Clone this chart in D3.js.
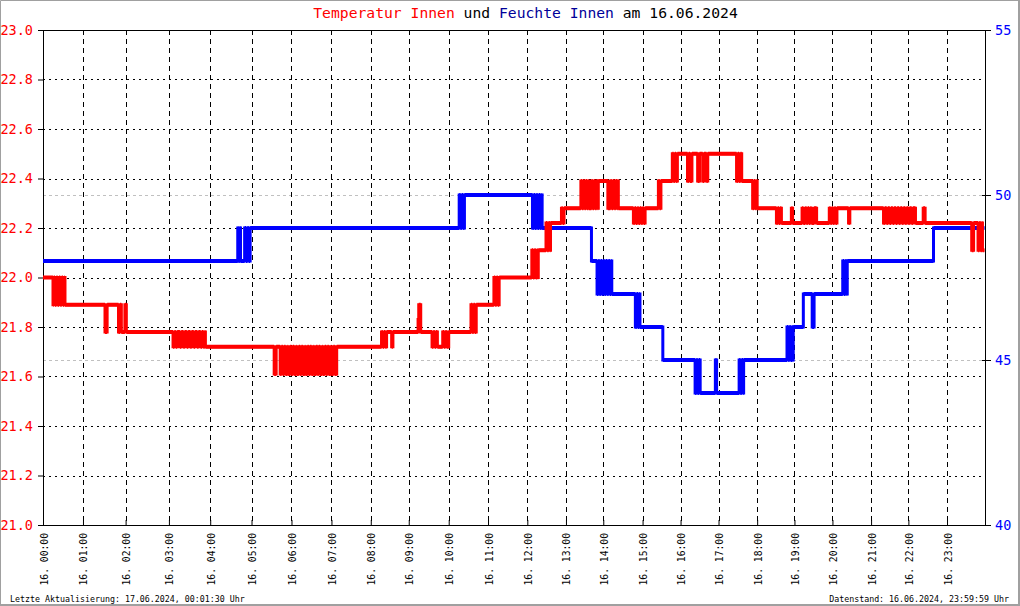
<!DOCTYPE html>
<html><head><meta charset="utf-8">
<script src="https://cdn.jsdelivr.net/npm/d3@7"></script>
<style>
body{margin:0;background:#fff}
svg{display:block}
text{font-family:"DejaVu Sans Mono",monospace}
</style>
</head><body><svg id="c" width="1020" height="606"></svg>
<script>
// ---- data ----
const samplesPerHour = [60,64,65,62,62,60,60,59,57,60,59,59,58,56,59,57,57,58,56,57,58,56,58,57];
const tempTicks = [21.0,21.2,21.4,21.6,21.8,22.0,22.2,22.4,22.6,22.8,23.0];
const humTicks = [40,45,50,55];
const hourTicks = [0,1,2,3,4,5,6,7,8,9,10,11,12,13,14,15,16,17,18,19,20,21,22,23];
const hourLabels = ["16. 00:00","16. 01:00","16. 02:00","16. 03:00","16. 04:00","16. 05:00","16. 06:00","16. 07:00","16. 08:00","16. 09:00","16. 10:00","16. 11:00","16. 12:00","16. 13:00","16. 14:00","16. 15:00","16. 16:00","16. 17:00","16. 18:00","16. 19:00","16. 20:00","16. 21:00","16. 22:00","16. 23:00"];
const titleParts = [["Temperatur Innen","#ff0000"],[" und ","#000000"],["Feuchte Innen","#000099"],[" am 16.06.2024","#000000"]];
const footerLeft = "Letzte Aktualisierung: 17.06.2024, 00:01:30 Uhr";
const footerRight = "Datenstand: 16.06.2024, 23:59:59 Uhr";

const tempSeries = [
["00:00",22.0],
["00:15",21.89],["00:16",22.0],["00:18",21.89],["00:20",22.0],["00:22",21.89],["00:24",22.0],["00:26",21.89],["00:28",22.0],["00:30",21.89],["00:32",22.0],["00:33",21.89],
["01:31",21.78],["01:34",21.89],
["01:50",21.78],["01:52",21.89],["01:54",21.78],["01:59",21.89],["02:01",21.78],
["03:06",21.72],["03:08",21.78],["03:10",21.72],["03:12",21.78],["03:16",21.72],["03:18",21.78],["03:21",21.72],["03:23",21.78],["03:26",21.72],["03:28",21.78],["03:31",21.72],["03:33",21.78],["03:36",21.72],["03:38",21.78],["03:41",21.72],["03:43",21.78],["03:46",21.72],["03:48",21.78],["03:50",21.72],["03:52",21.78],["03:53",21.72],
["05:34",21.61],["05:37",21.72],
["05:43",21.61],["05:45",21.72],["05:47",21.61],["05:49",21.72],["05:51",21.61],["05:54",21.72],["05:55",21.61],["05:58",21.72],["06:00",21.61],["06:02",21.72],["06:04",21.61],["06:07",21.72],["06:08",21.61],["06:11",21.72],["06:13",21.61],["06:15",21.72],["06:17",21.61],["06:20",21.72],["06:21",21.61],["06:24",21.72],["06:26",21.61],["06:28",21.72],["06:30",21.61],["06:33",21.72],["06:34",21.61],["06:37",21.72],["06:39",21.61],["06:41",21.72],["06:43",21.61],["06:46",21.72],["06:47",21.61],["06:50",21.72],["06:52",21.61],["06:54",21.72],["06:56",21.61],["06:59",21.72],["07:00",21.61],["07:03",21.72],["07:05",21.61],["07:08",21.72],
["08:17",21.78],["08:19",21.72],["08:21",21.78],["08:23",21.72],["08:25",21.78],
["08:33",21.72],["08:35",21.78],
["09:14",21.83],["09:15",21.89],["09:18",21.78],
["09:35",21.72],["09:37",21.78],["09:39",21.72],["09:41",21.78],["09:43",21.72],
["09:51",21.78],["09:53",21.72],["09:55",21.78],["09:57",21.72],["10:00",21.78],
["10:34",21.89],["10:36",21.78],["10:38",21.89],["10:40",21.78],["10:42",21.89],
["11:09",22.0],["11:11",21.89],["11:13",22.0],["11:15",21.89],["11:17",22.0],
["12:07",22.11],["12:09",22.0],["12:11",22.11],["12:13",22.0],["12:15",22.11],["12:16",22.0],["12:17",22.11],
["12:29",22.22],["12:31",22.11],["12:33",22.22],["12:35",22.11],["12:36",22.22],
["12:53",22.28],["12:55",22.22],["12:57",22.28],
["13:24",22.39],["13:26",22.28],["13:28",22.39],["13:30",22.28],["13:32",22.39],["13:34",22.28],["13:36",22.39],["13:37",22.28],
["13:41",22.39],["13:43",22.28],["13:45",22.39],["13:47",22.28],["13:49",22.39],["13:51",22.28],["13:52",22.39],
["14:07",22.28],["14:11",22.39],
["14:13",22.28],["14:15",22.39],["14:17",22.28],["14:19",22.39],["14:21",22.28],["14:22",22.39],["14:23",22.28],
["14:46",22.22],["14:48",22.28],["14:50",22.22],["14:52",22.28],["14:54",22.22],["14:56",22.28],["14:58",22.22],["15:00",22.28],["15:02",22.22],["15:04",22.28],
["15:25",22.39],["15:27",22.28],["15:29",22.39],
["15:47",22.5],["15:49",22.39],["15:51",22.5],["15:53",22.39],["15:55",22.5],
["16:11",22.39],["16:13",22.5],["16:15",22.39],["16:18",22.5],
["16:27",22.39],["16:30",22.5],["16:35",22.39],["16:37",22.5],["16:41",22.39],["16:43",22.5],
["17:28",22.39],["17:30",22.5],["17:32",22.39],["17:34",22.5],["17:36",22.39],
["17:53",22.28],["17:55",22.39],["17:57",22.28],["17:59",22.39],["18:00",22.28],
["18:31",22.22],["18:33",22.28],["18:35",22.22],["18:37",22.28],["18:39",22.22],
["18:55",22.28],["18:57",22.22],
["19:12",22.28],["19:14",22.22],["19:17",22.28],["19:19",22.22],["19:21",22.28],["19:23",22.22],["19:25",22.28],["19:27",22.22],
["19:31",22.28],["19:35",22.22],
["19:55",22.28],["19:57",22.22],["19:59",22.28],["20:01",22.22],["20:03",22.28],["20:05",22.22],["20:07",22.28],
["20:25",22.22],["20:27",22.28],
["21:20",22.22],["21:22",22.28],["21:25",22.22],["21:27",22.28],["21:30",22.22],["21:32",22.28],["21:35",22.22],["21:37",22.28],["21:40",22.22],["21:42",22.28],["21:45",22.22],["21:47",22.28],["21:50",22.22],["21:52",22.28],["21:55",22.22],["21:57",22.28],["22:00",22.22],["22:02",22.28],["22:05",22.22],["22:07",22.28],["22:11",22.22],
["22:23",22.28],["22:26",22.22],
["23:39",22.11],["23:42",22.22],
["23:49",22.11],["23:51",22.22],["23:53",22.11],["23:55",22.22],["23:56",22.11],["23:59",22.11]
];

const humSeries = [
["00:00",48],
["04:40",49],["04:41",48],["04:43",49],["04:44",48],["04:50",49],["04:52",48],["04:54",49],["04:56",48],["04:58",49],
["10:16",50],["10:18",49],["10:20",50],["10:22",49],["10:24",50],
["12:08",49],["12:10",50],["12:12",49],["12:14",50],["12:16",49],["12:18",50],["12:20",49],["12:22",50],["12:23",49],
["13:41",48],
["13:50",47],["13:52",48],["13:54",47],["13:56",48],["13:58",47],["14:00",48],["14:02",47],["14:04",48],["14:06",47],["14:08",48],["14:10",47],["14:12",48],["14:13",47],
["14:49",46],["14:51",47],["14:53",46],["14:55",47],["14:56",46],
["15:32",45],
["16:23",44],["16:25",45],["16:27",44],["16:29",45],["16:31",44],
["16:55",45],["16:57",44],
["17:32",45],["17:34",44],["17:36",45],["17:38",44],["17:39",45],
["18:48",46],["18:50",45],["18:52",46],["18:54",45],["18:56",46],["18:57",45],["18:58",46],
["19:14",47],
["19:28",46],["19:31",47],
["20:16",48],["20:18",47],["20:20",48],["20:22",47],["20:23",48],
["22:39",49],
["23:59",49]
];

// ---- layout ----
const W = 1020, H = 606;
const L = 43, R = 985, T = 30, B = 525;
const svg = d3.select("#c");

const cum = [0];
samplesPerHour.forEach((s, i) => cum.push(cum[i] + s));
function toIndex(t) {
  const [h, mm] = t.split(":").map(Number);
  return cum[h] + mm / 60 * samplesPerHour[h];
}
const x = d3.scaleLinear().domain([0, cum[24]]).range([L, R]);
const yT = d3.scaleLinear().domain([21, 23]).range([B, T]);
const yH = d3.scaleLinear().domain([40, 55]).range([B, T]);
const px = v => Math.round(v) + 0.5;

// outer border
svg.append("rect").attr("x", 0).attr("y", 0).attr("width", W).attr("height", H).attr("fill", "#fff");
svg.append("path").attr("d", `M0.5,${H}V0.5H${W}`).attr("stroke", "#a0a0a0").attr("fill", "none");
svg.append("path").attr("d", `M${W-1},0V${H-1}H0`).attr("stroke", "#a0a0a0").attr("stroke-width", 2).attr("fill", "none");

// gray dashed lines at humidity ticks
svg.append("g").selectAll("line").data(humTicks.filter(d => d > 40 && d < 55)).join("line")
  .attr("x1", L).attr("x2", R).attr("y1", d => px(yH(d))).attr("y2", d => px(yH(d)))
  .attr("stroke", "#c0c0c0").attr("stroke-dasharray", "3,3");

// horizontal dotted grid
svg.append("g").selectAll("line").data(tempTicks.filter(d => d > 21 && d < 23)).join("line")
  .attr("x1", L).attr("x2", R).attr("y1", d => px(yT(d))).attr("y2", d => px(yT(d)))
  .attr("stroke", "#000").attr("stroke-dasharray", "2,4");

// vertical dashed grid
svg.append("g").selectAll("line").data(hourTicks.filter(h => h > 0)).join("line")
  .attr("x1", h => px(x(cum[h]))).attr("x2", h => px(x(cum[h])))
  .attr("y1", T).attr("y2", B)
  .attr("stroke", "#000").attr("stroke-dasharray", "5,4");

// frame
svg.append("rect").attr("x", L + 0.5).attr("y", T + 0.5).attr("width", R - L).attr("height", B - T)
  .attr("fill", "none").attr("stroke", "#000");

// left axis
const gL = svg.append("g").attr("transform", `translate(${L},0)`)
  .call(d3.axisLeft(yT).tickValues(tempTicks).tickFormat(d3.format(".1f")).tickSize(5).tickPadding(5));
gL.select(".domain").remove();
gL.selectAll("text").attr("fill", "#ff0000").attr("font-size", "13.5px").attr("font-family", "DejaVu Sans Mono");

// right axis
const gR = svg.append("g").attr("transform", `translate(${R},0)`)
  .call(d3.axisRight(yH).tickValues(humTicks).tickSize(6).tickPadding(4));
gR.select(".domain").remove();
gR.selectAll(".tick line").attr("x1", -3);
gR.selectAll("text").attr("fill", "#0000ff").attr("font-size", "13.5px").attr("font-family", "DejaVu Sans Mono");

// bottom axis
const gB = svg.append("g").attr("transform", `translate(0,${B})`)
  .call(d3.axisBottom(x).tickValues(hourTicks.map(h => cum[h])).tickSize(-5).tickFormat((d, i) => hourLabels[i]));
gB.select(".domain").remove();
gB.selectAll("text")
  .attr("transform", "rotate(-90)")
  .attr("x", -8).attr("y", 4).attr("dy", null).attr("dx", null)
  .attr("text-anchor", "end")
  .attr("fill", "#000").attr("font-size", "9.7px").attr("font-family", "DejaVu Sans Mono");

// data lines: step line (vertical parts ~3px) plus 4px horizontal runs
function drawSeries(data, yS, color) {
  const line = d3.line().x(d => x(toIndex(d[0]))).y(d => yS(d[1])).curve(d3.curveStepAfter);
  svg.append("path").datum(data).attr("d", line)
    .attr("fill", "none").attr("stroke", color).attr("stroke-width", 3);
  const runs = data.slice(0, -1).map((d, i) =>
    `M${x(toIndex(d[0]))},${yS(d[1])}H${x(toIndex(data[i + 1][0]))}`).join("");
  svg.append("path").attr("d", runs)
    .attr("fill", "none").attr("stroke", color).attr("stroke-width", 4);
}
drawSeries(humSeries, yH, "#0000ff");
drawSeries(tempSeries, yT, "#ff0000");

// title
const title = svg.append("text").attr("x", 525.5).attr("y", 18).attr("text-anchor", "middle")
  .attr("font-size", "14.7px").style("white-space", "pre");
titleParts.forEach(([t, c]) => title.append("tspan").attr("fill", c).text(t));

// footers
svg.append("text").attr("x", 10).attr("y", 602).attr("font-size", "8.3px").attr("fill", "#000").text(footerLeft);
svg.append("text").attr("x", 1009).attr("y", 602).attr("text-anchor", "end").attr("font-size", "8.3px").attr("fill", "#000").text(footerRight);
</script>
</body></html>
